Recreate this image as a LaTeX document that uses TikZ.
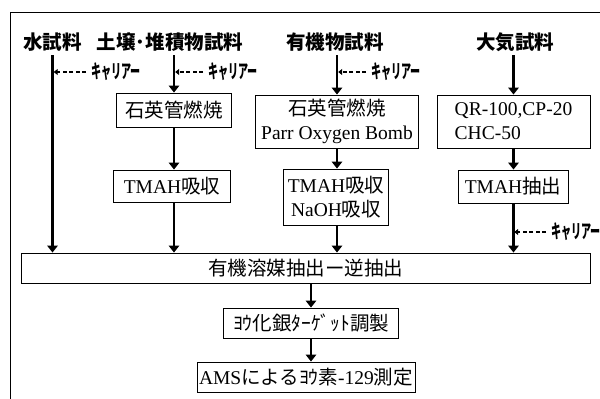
\documentclass[tikz,border=0pt]{standalone}
\usepackage{fontspec}
\usepackage{graphicx}
\setmainfont{Liberation Serif}
\newfontfamily\J{Noto Sans CJK JP}
\usetikzlibrary{arrows.meta}
\newcommand{\carrtext}{\scalebox{0.53}[1]{キャリアー}}
\begin{document}
\begin{tikzpicture}[x=1pt,y=-1pt,
  every node/.style={font=\fontsize{19.5}{24}\selectfont},
  hdr/.style={font=\fontsize{19.5}{24}\selectfont\J\bfseries, inner sep=0pt, minimum height=26pt},
  box/.style={draw=black, line width=0.9pt, inner sep=0pt, align=center},
  carrtxt/.style={font=\fontsize{19}{24}\selectfont\J\bfseries, inner sep=0pt, anchor=west},
  arr/.style={line width=2.4pt, -{Triangle[width=10.5pt,length=7pt]}},
  carr/.style={line width=1.2pt, dash pattern=on 4pt off 2.5pt, -{Triangle[width=6pt,length=4pt]}, shorten >=1.2pt}
]
\useasboundingbox (0,0) rectangle (600,399);
\fill[white] (0,0) rectangle (600,399);
% frame
\draw[line width=0.9pt] (10,399) -- (10,12.5) -- (600,12.5);

% headers
\node[hdr] (h1) at (52.5,42) {水試料};
\node[hdr] (h2) at (170,42) {土壌･堆積物試料};
\node[hdr] (h3) at (335,42) {有機物試料};
\node[hdr] (h4) at (515,42) {大気試料};

% boxes
\node[box, minimum width=115pt, minimum height=34pt] (s1) at (174,110) {\J 石英管燃焼};
\node[box, minimum width=117pt, minimum height=32pt] (s2) at (172,186) {TMAH{\J 吸収}};
\node[box, minimum width=163pt, minimum height=53pt] (o1) at (337,121.5) {{\J 石英管燃焼}\\Parr Oxygen Bomb};
\node[box, minimum width=105pt, minimum height=56pt] (o2) at (336,197) {TMAH{\J 吸収}\\NaOH{\J 吸収}};
\node[box, minimum width=153pt, minimum height=53pt, align=left] (a1) at (513.5,121.5) {QR-100,CP-20\\CHC-50};
\node[box, minimum width=110pt, minimum height=33pt] (a2) at (513,186.5) {TMAH{\J 抽出}};
\node[box, minimum width=569pt, minimum height=30pt] (big) at (305.5,268) {\J 有機溶媒抽出ー逆抽出};
\node[box, minimum width=175pt, minimum height=30pt] (t1) at (311,323) {\J ﾖｳ化銀ﾀｰｹﾞｯﾄ調製};
\node[box, minimum width=218pt, minimum height=30pt] (t2) at (306,377) {AMS{\J によるﾖｳ素}-129{\J 測定}};

% main arrows
\draw[arr] (h1.south) -- (h1.south |- big.north);
\draw[arr] (s1.north |- h2.south) -- (s1.north);
\draw[arr] (s1.south) -- (s1.south |- s2.north);
\draw[arr] (s1.south |- s2.south) -- (s1.south |- big.north);
\draw[arr] (o1.north |- h3.south) -- (o1.north);
\draw[arr] (o1.south) -- (o1.south |- o2.north);
\draw[arr] (o1.south |- o2.south) -- (o1.south |- big.north);
\draw[arr] (a1.north |- h4.south) -- (a1.north);
\draw[arr] (a1.south) -- (a1.south |- a2.north);
\draw[arr] (a1.south |- a2.south) -- (a1.south |- big.north);
\draw[arr] (t1.north |- big.south) -- (t1.north);
\draw[arr] (t1.south) -- (t1.south |- t2.north);

% carrier labels
\node[carrtxt] (k1) at (91,72) {\carrtext};
\node[carrtxt] (k2) at (208,72) {\carrtext};
\node[carrtxt] (k3) at (371,72) {\carrtext};
\node[carrtxt] (k4) at (551,232) {\carrtext};
\draw[carr] ([xshift=-5pt]k1.west) -- (k1.west -| h1.south);
\draw[carr] ([xshift=-5pt]k2.west) -- (k2.west -| s1.north);
\draw[carr] ([xshift=-5pt]k3.west) -- (k3.west -| o1.north);
\draw[carr] ([xshift=-5pt]k4.west) -- (k4.west -| a2.south);
\end{tikzpicture}
\end{document}
